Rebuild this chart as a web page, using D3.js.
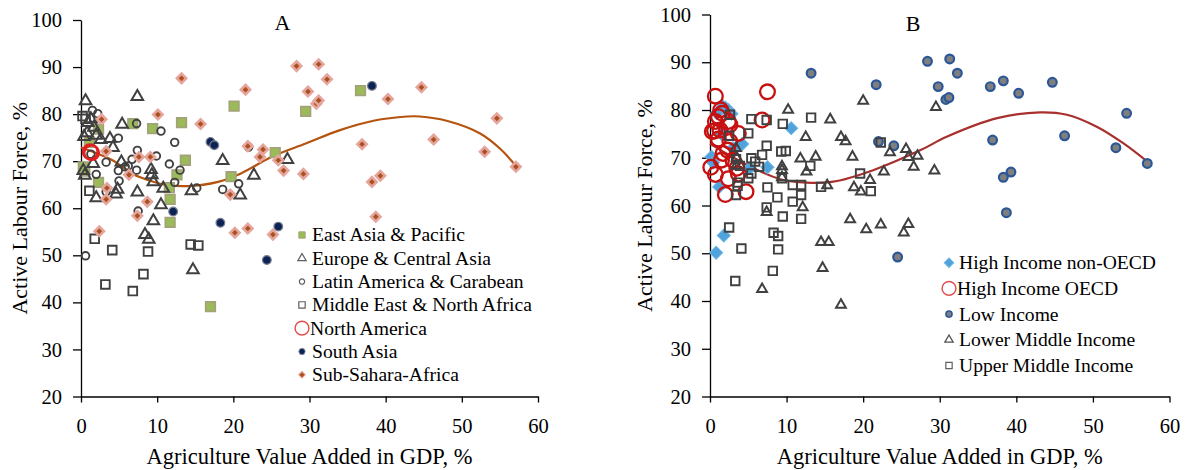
<!DOCTYPE html>
<html><head><meta charset="utf-8">
<script src="https://cdn.jsdelivr.net/npm/d3@7"></script>
<style>
body{margin:0;background:#fff;}
text{font-family:"Liberation Serif","Times New Roman",serif;fill:#000;}
</style></head>
<body><svg id="c" width="1187" height="470"></svg>
<script>
// ---------- Panel A data (region) : [agriculture % GDP, active labour force %] ----------
const eastAsia = [[0.3,68.8],[0.5,67.9],[1.1,74.0],[2.3,76.8],[2.3,65.5],[6.8,78.0],[9.4,76.9],[11.6,64.4],[11.7,61.9],[11.7,57.0],[12.6,67.1],[13.2,78.2],[13.7,70.2],[17.0,39.1],[19.7,66.7],[20.1,81.7],[25.5,71.8],[29.5,80.6],[36.7,85.0]];
const europe = [[0.6,82.8],[7.4,83.7],[0.4,75.2],[0.9,78.2],[1.3,79.0],[1.7,77.2],[0.8,76.0],[2.0,75.5],[2.6,74.6],[3.8,74.8],[4.2,72.9],[5.4,77.8],[5.3,69.8],[0.3,68.0],[0.5,67.0],[1.6,69.5],[2.0,62.2],[4.6,63.0],[4.8,64.0],[7.4,63.4],[9.2,68.2],[9.3,67.1],[9.5,65.6],[10.8,64.2],[10.5,60.7],[9.5,57.3],[8.4,54.4],[8.9,53.4],[14.5,63.7],[14.7,46.9],[18.6,70.1],[20.9,62.8],[22.7,67.0],[27.1,70.3]];
const latinAmerica = [[0.6,49.9],[1.5,80.8],[2.2,80.1],[3.3,69.8],[3.3,63.5],[4.9,74.9],[4.9,68.0],[5.0,65.8],[5.8,68.8],[6.2,69.0],[6.7,70.4],[7.3,78.0],[7.4,72.3],[7.3,68.1],[7.5,59.4],[9.9,71.1],[10.5,76.4],[11.6,69.4],[12.3,74.0],[12.3,65.5],[13.0,68.1],[15.2,64.3],[18.6,64.0],[20.7,65.2],[22.0,73.0],[1.3,71.5],[2.0,67.2]];
const middleEast = [[0.6,79.0],[0.2,79.6],[1.1,63.7],[1.8,53.5],[4.1,51.1],[3.2,43.8],[6.8,42.4],[8.2,46.0],[8.8,50.8],[14.4,52.3],[15.4,52.1]];
const northAmerica = [[1.2,72.0],[1.4,71.8]];
const southAsia = [[12.1,59.3],[17.0,74.1],[17.5,73.4],[18.3,56.9],[24.4,49.0],[25.9,56.1],[38.2,86.0]];
const subSahara = [[2.4,55.1],[2.7,78.9],[3.3,72.1],[3.4,64.3],[3.3,61.9],[6.3,67.1],[7.4,58.4],[7.6,70.9],[8.7,61.4],[9.1,70.9],[10.1,79.9],[13.2,87.6],[15.7,77.9],[19.6,62.9],[20.2,54.8],[21.6,85.2],[21.9,55.7],[21.9,73.2],[23.5,70.9],[23.9,72.5],[25.2,54.4],[25.9,70.2],[26.6,68.0],[28.3,90.2],[29.2,67.3],[29.8,84.8],[30.9,82.2],[31.2,82.9],[31.2,90.6],[32.3,87.4],[36.9,73.6],[38.2,65.6],[38.7,58.2],[39.3,66.9],[40.3,83.2],[44.7,85.7],[46.3,74.6],[53.0,72.0],[54.6,79.1],[57.1,68.8]];
const trendA = [[0,72.9],[4,70.3],[7,67.1],[9,65.9],[11,65.0],[14,64.7],[18,65.6],[21,67.4],[25,70.9],[29.6,73.8],[34,76.6],[38.4,78.6],[42.8,79.5],[44.5,79.5],[48,78.6],[52.4,75.9],[55,72.7],[57.1,69.0]];

// ---------- Panel B data (income group) ----------
const highNonOECD = [[0.2,70.2],[0.4,69.0],[0.8,50.1],[0.9,79.3],[1.2,63.9],[1.7,80.7],[1.8,53.7],[2.0,80.5],[2.4,80.0],[2.8,79.2],[3.0,72.0],[4.2,72.9],[5.2,67.8],[7.5,68.0],[10.6,76.2],[1.5,75.0]];
const highOECD = [[0.1,68.0],[0.3,75.5],[0.6,75.6],[0.7,82.9],[0.7,77.6],[0.7,66.5],[1.1,78.6],[1.1,73.9],[1.3,75.8],[1.4,80.0],[1.6,79.3],[1.5,69.5],[1.7,70.9],[2.0,62.3],[2.3,71.6],[2.4,77.6],[2.4,65.6],[2.6,76.9],[2.6,73.4],[3.0,69.5],[3.5,67.8],[3.7,66.6],[3.7,75.1],[4.7,62.9],[6.8,77.9],[7.5,83.8]];
const lowIncome = [[13.2,87.7],[21.7,85.3],[22.0,73.4],[24.0,72.5],[24.5,49.2],[28.4,90.2],[29.8,84.9],[30.8,82.2],[31.2,82.6],[31.3,90.7],[32.3,87.7],[36.6,84.9],[36.9,73.7],[38.3,86.1],[38.3,65.9],[39.3,67.0],[38.7,58.5],[40.3,83.5],[44.7,85.8],[46.3,74.6],[53.0,72.1],[54.4,79.3],[57.1,68.8]];
const lowerMiddle = [[3.4,72.0],[3.5,70.0],[3.4,68.3],[6.8,42.5],[7.4,58.6],[9.4,68.2],[9.4,67.4],[9.4,65.9],[10.2,80.0],[11.8,69.8],[12.1,59.6],[12.5,74.3],[12.6,67.1],[13.8,70.2],[14.5,52.3],[15.5,52.3],[14.7,46.9],[15.3,64.2],[15.7,78.0],[17.1,74.3],[17.7,73.4],[17.1,39.2],[18.3,57.1],[18.6,70.2],[18.8,63.8],[19.7,62.9],[20.0,81.9],[20.4,55.0],[20.9,65.3],[22.3,56.0],[22.7,67.1],[23.5,71.1],[25.3,54.3],[25.6,71.8],[25.9,56.1],[25.9,70.1],[26.6,68.1],[27.1,70.4],[29.3,67.3],[29.5,80.6]];
const upperMiddle = [[2.5,55.4],[2.5,74.6],[2.6,79.0],[3.3,44.2],[3.4,62.2],[3.4,69.7],[3.6,64.1],[3.6,64.8],[3.9,68.3],[4.1,51.0],[5.0,65.7],[5.0,75.1],[5.4,66.7],[5.4,69.9],[5.4,78.1],[5.9,69.2],[6.4,68.1],[6.8,70.6],[7.4,72.5],[7.4,77.9],[7.4,59.6],[7.5,63.8],[8.2,46.3],[8.3,54.3],[8.9,53.6],[8.8,61.7],[8.9,50.8],[9.3,71.3],[9.4,65.7],[9.5,77.1],[9.5,57.7],[9.9,71.4],[10.8,64.3],[10.8,60.8],[11.9,64.3],[11.9,62.2],[11.9,57.2],[13.1,68.3],[13.2,78.4],[14.5,63.9],[19.6,66.7],[21.0,63.0],[22.3,73.2]];
const trendB = [[0,72.9],[5.7,67.8],[9.2,65.5],[12.6,64.8],[16.1,65.0],[21.3,67.4],[27.5,71.6],[30.9,74.4],[37.5,78.3],[43.1,79.5],[46.6,79.0],[50.5,76.5],[54,73.0],[57.1,69.2]];

// ---------- labels ----------
const xTicks = [0,10,20,30,40,50,60];
const yTicks = [20,30,40,50,60,70,80,90,100];
const xTitle = "Agriculture Value Added in GDP, %";
const yTitle = "Active Labour Force, %";
const legendA = ["East Asia & Pacific","Europe & Central Asia","Latin America & Carabean","Middle East & North Africa","North America","South Asia","Sub-Sahara-Africa"];
const legendB = ["High Income non-OECD","High Income OECD","Low Income","Lower Middle Income","Upper Middle Income"];

const svg = d3.select("#c");

const styles = {
  eastAsia:{type:d3.symbolSquare,size:90,fill:"#9bbb59",stroke:"#a3a37a",sw:1.8, lsize:40},
  europe:{type:d3.symbolTriangle,size:58,fill:"none",stroke:"#404040",sw:2, lsize:30,lsw:1.2,lstroke:"#606060"},
  latin:{type:d3.symbolCircle,size:45,fill:"none",stroke:"#404040",sw:1.9, lsize:22,lsw:1.2,lstroke:"#606060"},
  mena:{type:d3.symbolSquare,size:75,fill:"none",stroke:"#404040",sw:1.9, lsize:40,lsw:1.2,lstroke:"#606060"},
  na:{type:d3.symbolCircle,size:170,fill:"none",stroke:"#e02020",sw:2.2, lsize:150,lsw:1.5,lstroke:"#e05050"},
  sa:{type:d3.symbolCircle,size:60,fill:"#0d2356",stroke:"#7a8090",sw:1.2, lsize:30},
  ssa:{type:d3.symbolSquare,rot:true,size:44,fill:"#a9521f",stroke:"#e6a59c",sw:2.6, lsize:22},
  hno:{type:d3.symbolSquare,rot:true,size:85,fill:"#4fa3dc",stroke:"#6ab3e3",sw:1, lsize:45},
  ho:{type:d3.symbolCircle,size:170,fill:"none",stroke:"#c81010",sw:2.3, lsize:150,lsw:1.5,lstroke:"#e05050"},
  low:{type:d3.symbolCircle,size:60,fill:"#7f7f7f",stroke:"#2b5797",sw:2.2, lsize:30,lsw:1.5},
  lmi:{type:d3.symbolTriangle,size:42,fill:"none",stroke:"#404040",sw:2, lsize:30,lsw:1.3,lstroke:"#505050"},
  umi:{type:d3.symbolSquare,size:72,fill:"none",stroke:"#404040",sw:1.9, lsize:40,lsw:1.2,lstroke:"#606060"}
};

function panel(cfg){
  const x = d3.scaleLinear().domain([0,60]).range(cfg.xr);
  const y = d3.scaleLinear().domain([20,100]).range(cfg.yr);
  const g = svg.append("g");
  const ya = g.append("g").attr("transform",`translate(${cfg.xr[0]},0)`)
    .call(d3.axisLeft(y).tickValues(yTicks).tickSizeInner(8).tickSizeOuter(0).tickPadding(11).tickFormat(d3.format("d")));
  const xa = g.append("g").attr("transform",`translate(0,${cfg.yr[0]})`)
    .call(d3.axisBottom(x).tickValues(xTicks).tickSizeInner(6).tickSizeOuter(0).tickPadding(16).tickFormat(d3.format("d")));
  [ya,xa].forEach(a=>{
    a.selectAll("path,line").attr("stroke","#000").attr("stroke-width",1.3);
    a.selectAll("text").style("font-size","20.5px").style("font-family","Liberation Serif").attr("fill","#000");
  });
  g.append("text").attr("x",(cfg.xr[0]+cfg.xr[1])/2).attr("y",464).attr("text-anchor","middle")
    .style("font-size","22.5px").text(xTitle);
  const yc=(cfg.yr[0]+cfg.yr[1])/2;
  g.append("text").attr("transform",`translate(${cfg.ytx},${yc}) rotate(-90)`).attr("text-anchor","middle")
    .style("font-size","22px").text(yTitle);
  g.append("text").attr("x",cfg.lab[0]).attr("y",cfg.lab[1]).attr("text-anchor","middle")
    .style("font-size","22px").text(cfg.label);
  g.append("path").datum(cfg.trend)
    .attr("d",d3.line().x(d=>x(d[0])).y(d=>y(d[1])).curve(d3.curveCatmullRom))
    .attr("fill","none").attr("stroke",cfg.trendColor).attr("stroke-width",2.2);
  cfg.series.forEach(s=>{
    const st=styles[s.style];
    g.append("g").selectAll("path").data(s.data).join("path")
      .attr("transform",d=>`translate(${x(d[0])},${y(d[1])})${st.rot?" rotate(45)":""}`)
      .attr("d",d3.symbol().type(st.type).size(st.size))
      .attr("fill",st.fill).attr("stroke",st.stroke).attr("stroke-width",st.sw);
  });
  cfg.series.forEach((s,i)=>{
    const st=styles[s.style];
    const ly=cfg.leg[1]+i*cfg.leg[2];
    g.append("path").attr("transform",`translate(${cfg.leg[0]},${ly})${st.rot?" rotate(45)":""}`)
      .attr("d",d3.symbol().type(st.type).size(st.lsize))
      .attr("fill",st.fill).attr("stroke",st.lstroke||st.stroke).attr("stroke-width",st.lsw||1);
    g.append("text").attr("x",cfg.leg[0]+ (s.style==="na"||s.style==="ho"?8:10)).attr("y",ly).attr("dy","0.33em")
      .style("font-size","19.6px").text(s.name);
  });
}

panel({xr:[81,538], yr:[396.5,20], ytx:27, lab:[282.5,30], label:"A",
  trend:trendA, trendColor:"#b5530f", leg:[302,235,23.3],
  series:[
    {name:legendA[0],data:eastAsia,style:"eastAsia"},
    {name:legendA[1],data:europe,style:"europe"},
    {name:legendA[2],data:latinAmerica,style:"latin"},
    {name:legendA[3],data:middleEast,style:"mena"},
    {name:legendA[4],data:northAmerica,style:"na"},
    {name:legendA[5],data:southAsia,style:"sa"},
    {name:legendA[6],data:subSahara,style:"ssa"}
  ]});

panel({xr:[710,1169.5], yr:[396.5,14.5], ytx:652, lab:[913,30.5], label:"B",
  trend:trendB, trendColor:"#a8302c", leg:[949,262.7,25.7],
  series:[
    {name:legendB[0],data:highNonOECD,style:"hno"},
    {name:legendB[1],data:highOECD,style:"ho"},
    {name:legendB[2],data:lowIncome,style:"low"},
    {name:legendB[3],data:lowerMiddle,style:"lmi"},
    {name:legendB[4],data:upperMiddle,style:"umi"}
  ]});
</script></body></html>
